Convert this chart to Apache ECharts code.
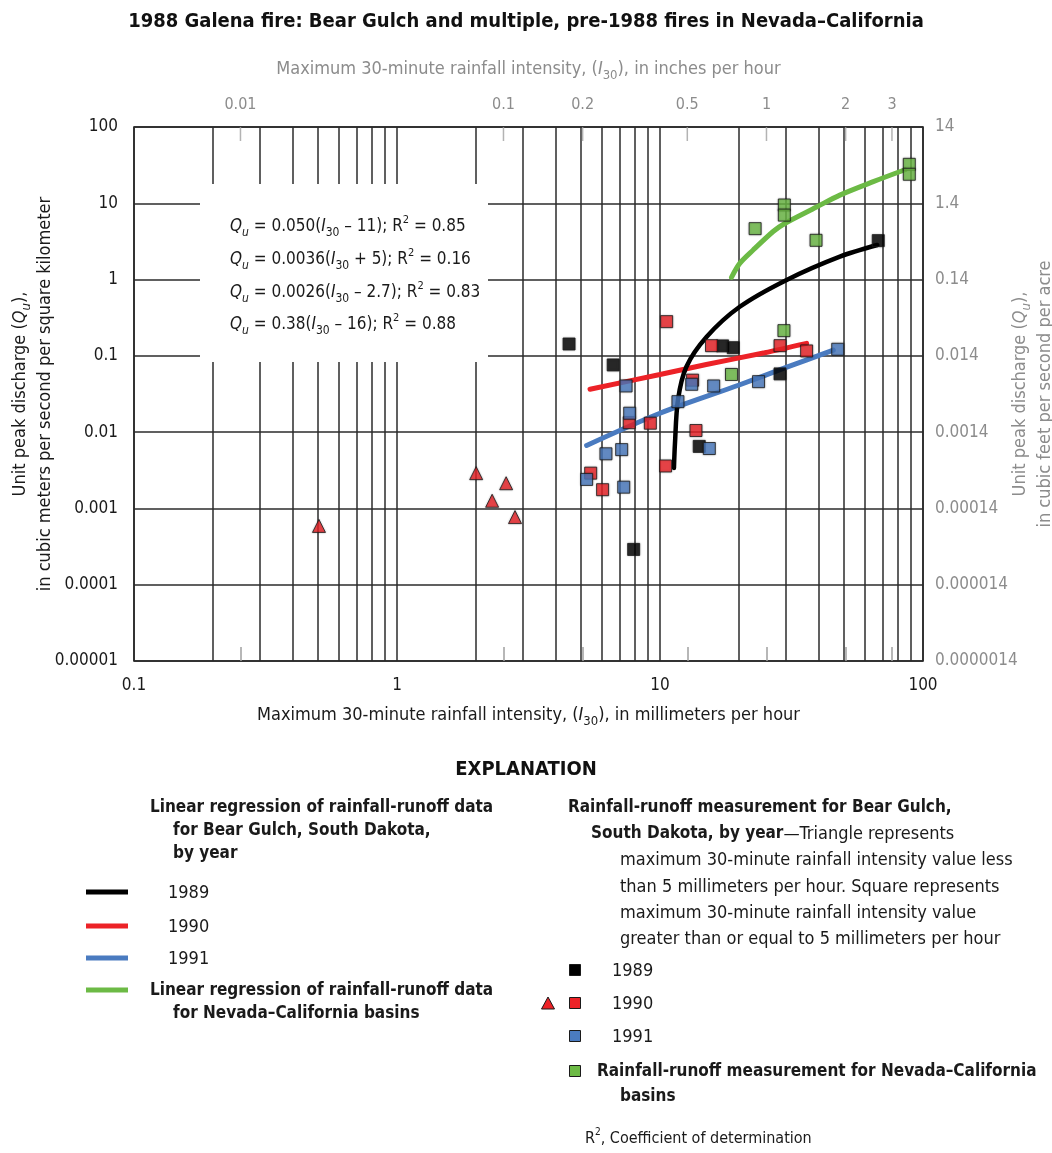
<!DOCTYPE html>
<html>
<head>
<meta charset="utf-8">
<script src="https://cdn.jsdelivr.net/npm/echarts@6/dist/echarts.min.js"></script>
<style>
  html, body { margin: 0; padding: 0; background: #fff; }
  #chart { width: 1052px; height: 1153px; }
</style>
</head>
<body>
<div id="chart"></div>
<script>
// rainfall intensity I30 (mm/h), unit peak discharge Qu (m3/s/km2)
const bear1989 = [[4.51, 0.143], [6.64, 0.076], [17.3, 0.135], [19.0, 0.128], [28.6, 0.058], [14.1, 0.0065], [7.94, 0.00029], [67.6, 3.24]];
const bear1990 = [[10.6, 0.281], [15.7, 0.136], [28.6, 0.136], [36.1, 0.116], [13.3, 0.048], [7.64, 0.0133], [9.19, 0.0131], [13.7, 0.0105], [10.5, 0.0036], [5.45, 0.0029], [6.05, 0.00176]];
const bear1990Low = [[0.505, 0.00059], [2.0, 0.0029], [2.6, 0.00214], [2.3, 0.00126], [2.81, 0.00077]];
const bear1991 = [[7.43, 0.0403], [13.2, 0.0424], [16.0, 0.0403], [23.7, 0.0459], [47.4, 0.122], [11.7, 0.0251], [7.67, 0.0177], [6.23, 0.0052], [7.15, 0.0059], [15.4, 0.0061], [5.26, 0.0024], [7.28, 0.0019]];
const nevCal = [[88.7, 32.4], [88.7, 24.0], [29.7, 9.5], [29.7, 7.0], [23.0, 4.65], [39.2, 3.27], [29.6, 0.214], [18.7, 0.057]];

// regression curves
const fit1989 = [[11.3, 0.0034], [11.4, 0.0071], [11.7, 0.0264], [12.6, 0.072], [15.05, 0.178], [20.1, 0.44], [30.3, 0.99], [48.3, 2.0], [67, 2.84]];
const fit1990 = [[5.42, 0.0365], [10, 0.057], [15, 0.077], [25, 0.11], [36.1, 0.146]];
const fit1991 = [[5.26, 0.0067], [10, 0.0177], [20, 0.0415], [30, 0.07], [45.6, 0.119]];
const fitNevCal = [[18.7, 1.07], [20.1, 1.63], [22.6, 2.44], [27, 4.3], [29.7, 5.4], [39.2, 8.86], [48.3, 12.8], [64.7, 19.2], [85.4, 27.5]];

// axes
const xGridValues = [0.1, 0.2, 0.3, 0.4, 0.5, 0.6, 0.7, 0.8, 0.9, 1, 2, 3, 4, 5, 6, 7, 8, 9, 10, 20, 30, 40, 50, 60, 70, 80, 90, 100];
const xLabelValues = [0.1, 1, 10, 100];
const xTickLabels = ['0.1', '1', '10', '100'];
const topTickInches = [0.01, 0.1, 0.2, 0.5, 1, 2, 3];
const yDecades = [0.00001, 0.0001, 0.001, 0.01, 0.1, 1, 10, 100];
const yTickLabels = ['0.00001', '0.0001', '0.001', '0.01', '0.1', '1', '10', '100'];
const yRightLabels = ['0.0000014', '0.000014', '0.00014', '0.0014', '0.014', '0.14', '1.4', '14'];

const FONT = "'Liberation Sans Narrow', 'DejaVu Sans Condensed', 'Arial Narrow', sans-serif";
const BLACK = '#000000';
const RED = '#ec2227';
const BLUE = '#4a7bc0';
const GREEN = '#6cba45';
const GRAY = '#8c8c8c';

const topTickMm = topTickInches.map(v => v * 25.4);
const decadeIndex = v => Math.round(Math.log10(v)) + 5;
const yTop = yDecades[yDecades.length - 1];

function richSet(color, size) {
  return {
    n: { color: color, fontSize: size, fontFamily: FONT, lineHeight: size + 7 },
    i: { color: color, fontSize: size, fontFamily: FONT, fontStyle: 'italic', lineHeight: size + 7 },
    sub: { color: color, fontSize: size - 5, fontFamily: FONT, verticalAlign: 'bottom', lineHeight: size - 5 },
    isub: { color: color, fontSize: size - 5, fontFamily: FONT, fontStyle: 'italic', verticalAlign: 'bottom', lineHeight: size - 5 },
    sup: { color: color, fontSize: size - 6, fontFamily: FONT, verticalAlign: 'top', lineHeight: size - 6 },
    b: { color: color, fontSize: size - 1, fontFamily: FONT, fontWeight: 'bold', lineHeight: size + 7 }
  };
}

function txt(x, y, text, opts) {
  opts = opts || {};
  return {
    type: 'text', z: 100, x: x, y: y,
    style: {
      text: text,
      fill: opts.color || '#1a1a1a',
      fontSize: opts.size || (opts.bold ? 17 : 18),
      fontFamily: FONT,
      fontWeight: opts.bold ? 'bold' : 'normal',
      textAlign: opts.align || 'left',
      textVerticalAlign: 'middle',
      rich: opts.rich
    }
  };
}

function sq(x, y, color) {
  return { type: 'rect', z: 100, shape: { x: x - 5.5, y: y - 5.5, width: 11, height: 11 }, style: { fill: color, stroke: '#1a1a1a', lineWidth: 1 } };
}

function seg(y, color) {
  return { type: 'line', z: 100, shape: { x1: 86, y1: y, x2: 128, y2: y }, style: { stroke: color, lineWidth: 5 } };
}

const eqRich = size => {
  const r = {};
  [['k', BLACK], ['r', RED], ['bl', BLUE], ['g', GREEN]].forEach(([p, c]) => {
    const s = richSet(c, size);
    Object.keys(s).forEach(k => { r[p + k] = s[k]; });
  });
  return r;
};

function eq(p, coef, rest, r2) {
  return '{' + p + 'i|Q}{' + p + 'isub|u}{' + p + 'n| = ' + coef + '(}{' + p + 'i|I}{' + p + 'sub|30}{' + p + 'n|' + rest + '); R}{' + p + 'sup|2}{' + p + 'n| = ' + r2 + '}';
}

const chart = echarts.init(document.getElementById('chart'));

const lineSeries = (data, color, w) => ({
  type: 'line', data: data, xAxisIndex: 0, yAxisIndex: 0, smooth: 0.3, symbol: 'none',
  lineStyle: { color: color, width: w, cap: 'round' }, z: 2, silent: true
});
const dotSeries = (data, color, sym) => ({
  type: 'scatter', data: data, xAxisIndex: 0, yAxisIndex: 0, symbol: sym || 'rect', symbolSize: sym ? 13 : 12,
  itemStyle: { color: color, borderColor: '#1a1a1a', borderWidth: 1, shadowBlur: 2, shadowColor: 'rgba(0,0,0,0.3)' }, z: 3
});

chart.setOption({
  animation: false,
  backgroundColor: '#ffffff',
  title: {
    text: '1988 Galena fire: Bear Gulch and multiple, pre-1988 fires in Nevada\u2013California',
    left: 'center', top: 7,
    textStyle: { fontFamily: FONT, fontSize: 20, fontWeight: 'bold', color: '#111' }
  },
  grid: { left: 134, top: 127, width: 789, height: 534, show: true, borderColor: '#111', borderWidth: 1.5, backgroundColor: 'transparent', containLabel: false, outerBoundsMode: 'none' },
  xAxis: [
    {
      type: 'log', logBase: 10, min: 0.1, max: 100, position: 'bottom',
      axisLine: { show: false },
      axisTick: { show: false, customValues: xGridValues },
      splitLine: { show: true, lineStyle: { color: '#2b2b2b', width: 1.5 } },
      axisLabel: { customValues: xLabelValues, formatter: v => xTickLabels[xLabelValues.findIndex(a => Math.abs(a - v) < a * 1e-6)], color: '#1a1a1a', fontSize: 17, fontFamily: FONT, margin: 16 },
      name: '{n|Maximum 30-minute rainfall intensity, (}{i|I}{sub|30}{n|), in millimeters per hour}',
      nameLocation: 'middle', nameGap: 42, nameMoveOverlap: false,
      nameTextStyle: { rich: richSet('#1a1a1a', 18) }
    },
    {
      type: 'log', logBase: 10, min: 0.1, max: 100, position: 'top',
      axisLine: { show: false },
      axisTick: { show: false, customValues: topTickMm },
      splitLine: { show: false },
      axisLabel: { customValues: topTickMm, formatter: v => String(Math.round(v / 25.4 * 100) / 100), color: GRAY, fontSize: 16, fontFamily: FONT, margin: 14 },
      name: '{n|Maximum 30-minute rainfall intensity, (}{i|I}{sub|30}{n|), in inches per hour}',
      nameLocation: 'middle', nameGap: 45, nameMoveOverlap: false,
      nameTextStyle: { rich: richSet(GRAY, 18) }
    },
    {
      type: 'log', logBase: 10, min: 0.1, max: 100, position: 'bottom',
      axisLine: { show: false },
      axisTick: { show: true, inside: true, length: 14, customValues: topTickMm, lineStyle: { color: '#a0a0a0', width: 1.5 } },
      splitLine: { show: false },
      axisLabel: { show: false }
    }
  ],
  yAxis: [
    {
      type: 'log', logBase: 10, min: 0.00001, max: 100, position: 'left',
      axisLine: { show: false },
      axisTick: { show: false, customValues: yDecades },
      splitLine: { show: true, lineStyle: { color: '#2b2b2b', width: 1.5 } },
      axisLabel: { customValues: yDecades, formatter: v => yTickLabels[decadeIndex(v)], color: '#1a1a1a', fontSize: 17, fontFamily: FONT, margin: 16 },
      name: '{n|Unit peak discharge (}{i|Q}{isub|u}{n|),}\n{n|in cubic meters per second per square kilometer}',
      nameLocation: 'middle', nameGap: 76, nameRotate: 90, nameMoveOverlap: false,
      nameTextStyle: { rich: richSet('#1a1a1a', 18), align: 'center' }
    },
    {
      type: 'log', logBase: 10, min: 0.00001, max: 100, position: 'right',
      axisLine: { show: false },
      axisTick: { show: false, customValues: yDecades },
      splitLine: { show: false },
      axisLabel: { customValues: yDecades, formatter: v => yRightLabels[decadeIndex(v)], color: GRAY, fontSize: 17, fontFamily: FONT, margin: 12 },
      name: '{n|Unit peak discharge (}{i|Q}{isub|u}{n|),}\n{n|in cubic feet per second per acre}',
      nameLocation: 'middle', nameGap: 85, nameRotate: 90, nameMoveOverlap: false,
      nameTextStyle: { rich: richSet(GRAY, 18), align: 'center' }
    }
  ],
  series: [
    {
      // gray inch ticks hanging from the top edge
      type: 'scatter', xAxisIndex: 0, yAxisIndex: 0, silent: true, z: 1,
      data: topTickMm.map(v => [v, yTop]),
      symbol: 'rect', symbolSize: [1.5, 14], symbolOffset: [0, 7],
      itemStyle: { color: '#a0a0a0' }
    },
    lineSeries(fit1991, BLUE, 5),
    lineSeries(fit1990, RED, 5),
    lineSeries(fitNevCal, GREEN, 5),
    lineSeries(fit1989, BLACK, 4.5),
    dotSeries(bear1990Low, RED, 'triangle'),
    dotSeries(nevCal, GREEN),
    dotSeries(bear1989, '#000000'),
    dotSeries(bear1990, RED),
    dotSeries(bear1991, BLUE)
  ],
  graphic: [
    { type: 'rect', z: 90, shape: { x: 200, y: 184, width: 288, height: 178 }, style: { fill: '#ffffff' } },
    txt(230, 227, eq('k', '0.050', ' \u2013 11', '0.85'), { rich: eqRich(17) }),
    txt(230, 260, eq('r', '0.0036', ' + 5', '0.16'), { rich: eqRich(17) }),
    txt(230, 293, eq('bl', '0.0026', ' \u2013 2.7', '0.83'), { rich: eqRich(17) }),
    txt(230, 325, eq('g', '0.38', ' \u2013 16', '0.88'), { rich: eqRich(17) }),

    txt(526, 770, 'EXPLANATION', { bold: true, size: 20, align: 'center', color: '#111' }),

    txt(150, 808, 'Linear regression of rainfall-runoff data', { bold: true }),
    txt(173, 831, 'for Bear Gulch, South Dakota,', { bold: true }),
    txt(173, 854, 'by year', { bold: true }),
    seg(892, BLACK), txt(168, 893, '1989'),
    seg(926, RED), txt(168, 927, '1990'),
    seg(958, BLUE), txt(168, 959, '1991'),
    seg(990, GREEN),
    txt(150, 991, 'Linear regression of rainfall-runoff data', { bold: true }),
    txt(173, 1014, 'for Nevada\u2013California basins', { bold: true }),

    txt(568, 808, 'Rainfall-runoff measurement for Bear Gulch,', { bold: true }),
    txt(591, 834, '{b|South Dakota, by year}{n|\u2014Triangle represents}', { rich: richSet('#1a1a1a', 18) }),
    txt(620, 860, 'maximum 30-minute rainfall intensity value less'),
    txt(620, 887, 'than 5 millimeters per hour. Square represents'),
    txt(620, 913, 'maximum 30-minute rainfall intensity value'),
    txt(620, 939, 'greater than or equal to 5 millimeters per hour'),
    sq(575, 970, '#000000'), txt(612, 971, '1989'),
    { type: 'polygon', z: 100, shape: { points: [[548, 997], [554.5, 1009], [541.5, 1009]] }, style: { fill: RED, stroke: '#1a1a1a', lineWidth: 1 } },
    sq(575, 1003, RED), txt(612, 1004, '1990'),
    sq(575, 1036, BLUE), txt(612, 1037, '1991'),
    sq(575, 1071, GREEN),
    txt(597, 1072, 'Rainfall-runoff measurement for Nevada\u2013California', { bold: true }),
    txt(620, 1097, 'basins', { bold: true }),
    txt(585, 1139, '{n|R}{sup|2}{n|, Coefficient of determination}', { rich: richSet('#1a1a1a', 16) })
  ]
});
</script>
</body>
</html>
